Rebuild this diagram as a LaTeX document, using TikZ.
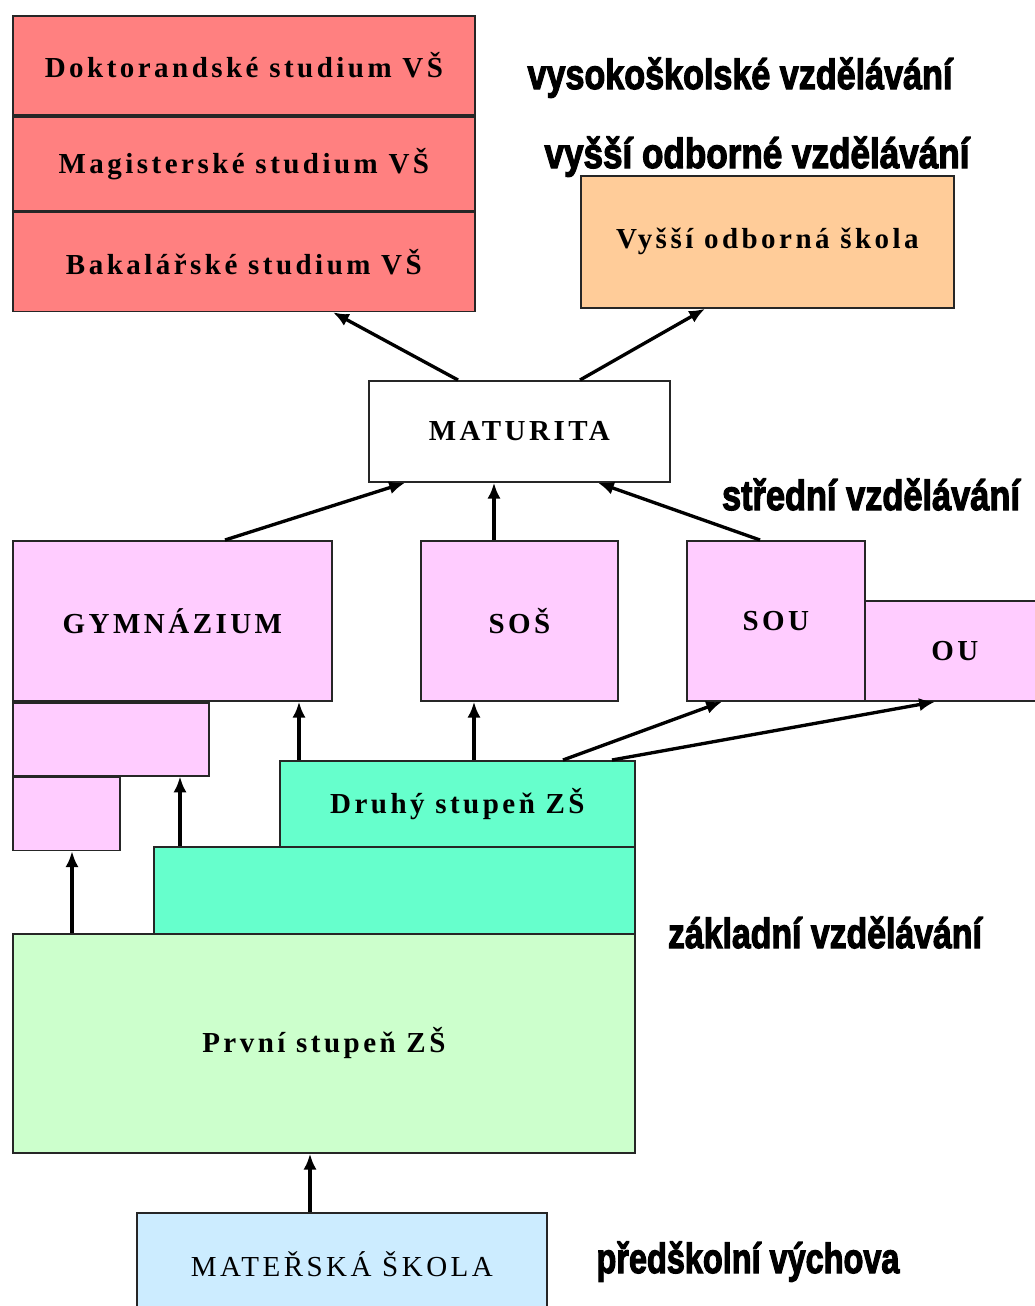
\documentclass[tikz,border=0pt]{standalone}
\usepackage{fontspec}
\usepackage{graphicx}
\setmainfont{Liberation Serif}
\newfontfamily\boxfont[LetterSpace=12]{Liberation Serif}
\newfontfamily\heavyfont[UprightFont={* Bold},FakeBold=3]{Liberation Sans}
\usetikzlibrary{calc,arrows.meta}
\definecolor{vsred}{RGB}{255,128,128}
\definecolor{vospeach}{RGB}{255,204,153}
\definecolor{sspink}{RGB}{255,204,255}
\definecolor{zsaqua}{RGB}{102,255,204}
\definecolor{zsgreen}{RGB}{204,255,204}
\definecolor{msblue}{RGB}{204,236,255}
\newcommand\squash[2]{\resizebox{#1}{\height}{#2}}
\tikzset{
	box/.style n args={3}{draw=black!85, line width=1pt, fill=#3, anchor=north west, inner sep=0pt,
		minimum width=#1*0.02cm, minimum height=#2*0.02cm, font=\boxfont\bfseries\fontsize{16.5}{18}\selectfont},
	arr/.style={line width=1.9pt, -{Latex[length=9pt,width=7.5pt]}},
	area/.style={anchor=base, inner sep=0pt, font=\heavyfont\fontsize{24}{28}\selectfont},
}

\begin{document}
\begin{tikzpicture}[x=0.02cm,y=-0.02cm]
			%%%%% START %%%%%
			\useasboundingbox (0,0) rectangle (1035,1306);
			
			% vysoke skoly
			\node[box={462}{99}{vsred}] (dokt) at (12,15) {Doktorandské studium VŠ};
			\node[box={462}{94}{vsred}] (mag) at (dokt.south west) {Magisterské studium VŠ};
			\node[box={462}{99}{vsred}] (bak) at (mag.south west) {Bakalářské studium VŠ};
			\node[box={373}{132}{vospeach}] (vos) at (580,175) {Vyšší odborná škola};
			
			\node[box={301}{101}{white}] (mat) at (368,380) {MATURITA};
			
			% stredni skoly
			\node[box={319}{160}{sspink}] (gym) at (12,540) {GYMNÁZIUM};
			\node[box={196}{73}{sspink}] (gymb) at (gym.south west) {};
			\node[box={107}{73}{sspink}] (gymc) at (gymb.south west) {};
			\node[box={197}{160}{sspink}] (sos) at (420,540) {SOŠ};
			\node[box={178}{160}{sspink}] (sou) at (686,540) {SOU};
			\node[box={180}{100}{sspink}] (ou) at (864,600) {OU};
			
			% zakladni skola
			\node[box={355}{86}{zsaqua}] (druhy) at (279,760) {Druhý stupeň ZŠ};
			\node[box={481}{87}{zsaqua}] (zsb) at (153,846) {};
			\node[box={622}{219}{zsgreen}] (prvni) at (12,933) {První stupeň ZŠ};
			\node[box={410}{102}{msblue}] (ms) at (136,1212) {\mdseries MATEŘSKÁ ŠKOLA};
			
			% popisky
			\node[area] (lvs) at (740,89) {\squash{8.5cm}{vysokoškolské vzdělávání}};
			\node[area] (lvos) at (757,168) {\squash{8.5cm}{vyšší odborné vzdělávání}};
			\node[area] (lss) at (871,510) {\squash{5.96cm}{střední vzdělávání}};
			\node[area] (lzs) at (825,948) {\squash{6.28cm}{základní vzdělávání}};
			\node[area] (lms) at (748,1273) {\squash{6.06cm}{předškolní výchova}};
			
			% sipky
			\draw[arr] ($(ms.north west)+(174,0)$) -- ($(prvni.south west)+(298,0)$);
			\draw[arr] ($(prvni.north west)+(60,0)$) -- ($(gymc.south west)+(60,0)$);
			\draw[arr] ($(zsb.north west)+(27,0)$) -- ($(gymb.south west)+(168,0)$);
			\draw[arr] ($(druhy.north west)+(20,0)$) -- ($(gym.south west)+(287,0)$);
			\draw[arr] ($(druhy.north west)+(195,0)$) -- ($(sos.south west)+(54,0)$);
			\draw[arr] ($(druhy.north west)+(284,0)$) -- ($(sou.south west)+(36,0)$);
			\draw[arr] ($(druhy.north west)+(333,0)$) -- ($(ou.south west)+(71,0)$);
			\draw[arr] ($(gym.north west)+(213,0)$) -- ($(mat.south west)+(37,0)$);
			\draw[arr] ($(sos.north west)+(74,0)$) -- ($(mat.south west)+(126,0)$);
			\draw[arr] ($(sou.north west)+(74,0)$) -- ($(mat.south west)+(230,0)$);
			\draw[arr] ($(mat.north west)+(90,0)$) -- ($(bak.south west)+(321,0)$);
			\draw[arr] ($(mat.north west)+(212,0)$) -- ($(vos.south west)+(125,0)$);
			%%%%% END %%%%%
\end{tikzpicture}
\end{document}
